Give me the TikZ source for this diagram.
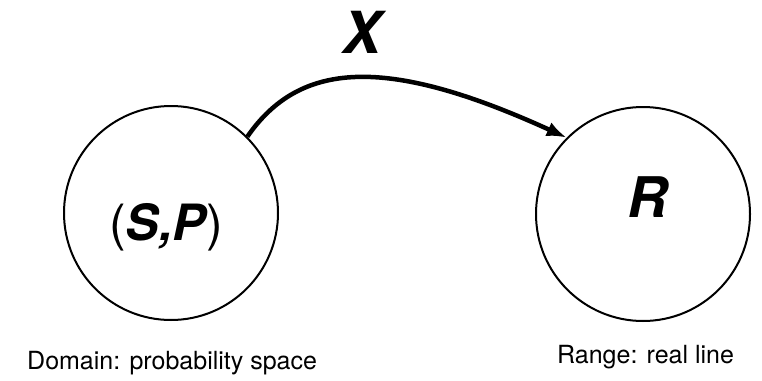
\documentclass[tikz,border=0pt]{standalone}
\usepackage{fontspec}
\setmainfont{TeX Gyre Heros}
\usetikzlibrary{arrows.meta}
\begin{document}
\begin{tikzpicture}[x=1pt,y=-1pt,
  setcirc/.style={circle,draw,line width=2pt,minimum size=214pt,inner sep=0pt},
  biglbl/.style={font=\fontsize{50}{56}\selectfont\bfseries\itshape},
  caption/.style={font=\fontsize{25}{30}\selectfont,anchor=base west,inner sep=0pt},
  maparrow/.style={line width=4.5pt,-{Latex[length=20pt,width=15pt]}}]
\useasboundingbox (0,0) rectangle (762,380);
\node[setcirc] (A) at (171,213) {};
\node[setcirc] (B) at (643,214) {};
\node[biglbl] (sp) at (166,227) {{\mdseries\upshape(}S,P{\mdseries\upshape)}};
\node[biglbl,font=\fontsize{56}{60}\selectfont\bfseries\itshape] (r) at (648,197) {R};
\node[biglbl,font=\fontsize{58}{62}\selectfont\bfseries\itshape] (x) at (362,32) {X};
\draw[maparrow] (A.45) .. controls +(52,-75) and +(-182,-83) .. (B.135);
\node[caption] (dom) at (27,369) {Domain: probability space};
\node[caption] (ran) at (557,363) {Range: real line};
\end{tikzpicture}
\end{document}
